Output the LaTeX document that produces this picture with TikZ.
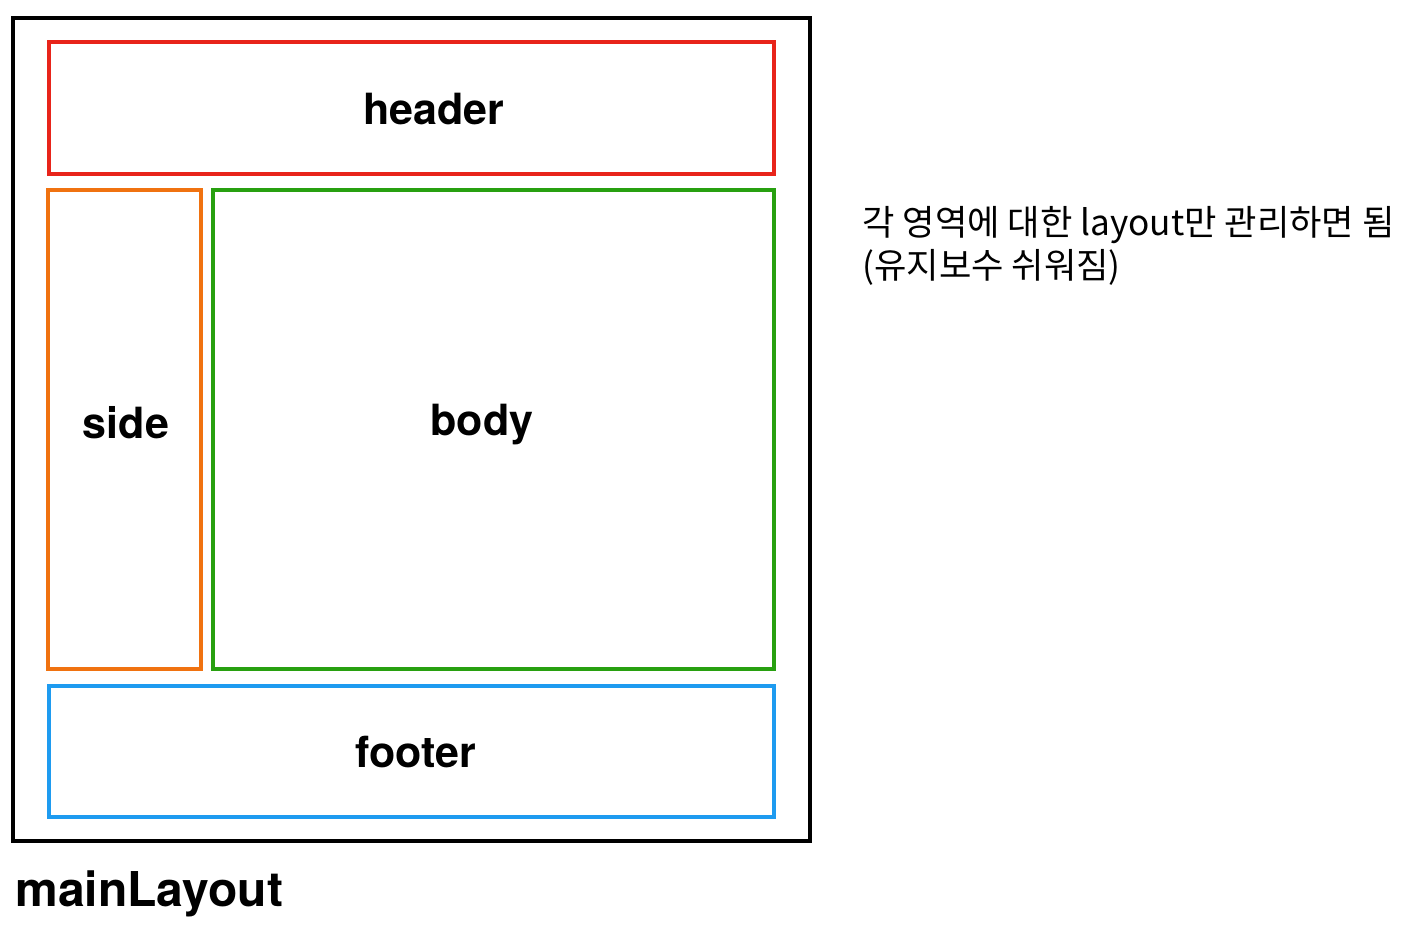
\documentclass[tikz,border=0pt]{standalone}
\usepackage{fontspec}
\setmainfont{TeX Gyre Heros}
\newfontfamily\krfont{Noto Sans CJK KR}
\definecolor{hdrred}{RGB}{232,36,26}
\definecolor{sideorange}{RGB}{240,114,16}
\definecolor{bodygreen}{RGB}{40,160,16}
\definecolor{footblue}{RGB}{30,155,240}
\tikzset{
  area/.style={draw=#1,line width=2pt,inner sep=0pt,outer sep=0pt},
  areatext/.style={font=\fontsize{21.5pt}{24pt}\selectfont\bfseries,inner sep=0pt}
}
\begin{document}
\begin{tikzpicture}[x=0.5pt,y=-0.5pt]
    \useasboundingbox (0,0) rectangle (1418,926);
    %% outer layout
    \node[area=black,minimum width=398.5pt,minimum height=411.5pt] (main) at (411.5,429.5) {};
    \node[font=\fontsize{24pt}{28pt}\selectfont\bfseries,anchor=base west,inner sep=0pt] (maintext) at (15,906) {mainLayout};
    %% header
    \node[areatext] (headertext) at (434,109) {header};
    \node[area=hdrred,minimum width=362.5pt,minimum height=66pt] (header) at (411.5,108) {};
    %% side and body
    \node[area=sideorange,minimum width=76.5pt,minimum height=239.5pt] (side) at (124.5,429.5) {};
    \node[areatext] (sidetext) at (126,423) {side};
    \node[area=bodygreen,minimum width=280.5pt,minimum height=239.5pt] (body) at (493.5,429.5) {};
    \node[areatext] (bodytext) at (482,425) {body};
    %% footer
    \node[area=footblue,minimum width=362.5pt,minimum height=65.5pt] (footer) at (411.5,751.5) {};
    \node[areatext] (footertext) at (416,752) {footer};
    %% note
    \node[font=\krfont\fontsize{17.6pt}{21.5pt}\selectfont,align=left,anchor=north west,inner sep=0pt] (note) at (862,206)
        {각 영역에 대한 layout만 관리하면 됨\\(유지보수 쉬워짐)};
\end{tikzpicture}
\end{document}
